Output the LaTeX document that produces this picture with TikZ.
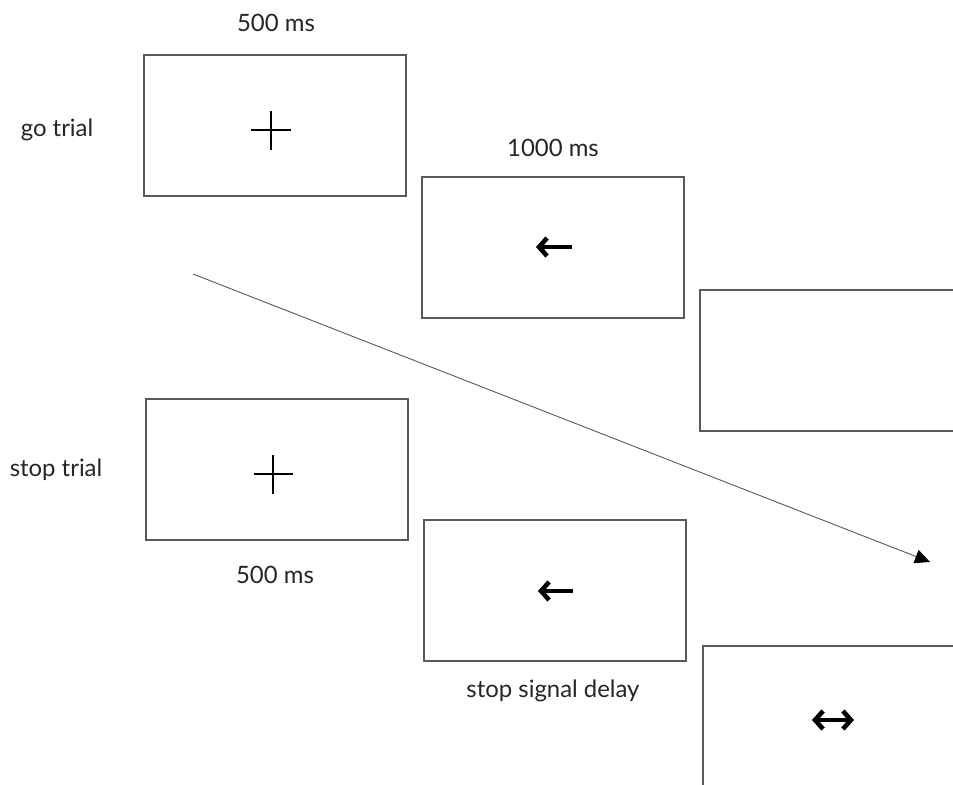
\documentclass[tikz,border=0pt]{standalone}
\usepackage{fontspec}
\setmainfont{Lato}
\usetikzlibrary{arrows.meta}
\definecolor{boxgray}{HTML}{5A5A5A}
\definecolor{txtgray}{HTML}{262626}
\tikzset{
  screen/.style={draw=boxgray, line width=2bp, minimum width=262bp, minimum height=141bp, inner sep=0pt},
  lbl/.style={text=txtgray, font=\fontsize{24}{28}\selectfont, inner sep=0pt},
  fix/.style={line width=2.8bp, black},
  barbtip/.tip={Straight Barb[length=8bp, width=18bp, line width=4.6bp]},
  stim/.style={line width=4.8bp, black},
  flow/.style={draw=boxgray, line width=0.9bp, -{Triangle[length=15bp, width=14bp, fill=black, color=black]}}
}
\begin{document}
\begin{tikzpicture}[x=1bp, y=-1bp]
\clip (0,0) rectangle (953,785);
\fill[white] (0,0) rectangle (953,785);
% screens
\node[screen] (b1) at (275,125.5) {};
\node[screen] (b2) at (553,247.5) {};
\node[screen] (b3) at (831,360.5) {};
\node[screen] (b4) at (277,469.5) {};
\node[screen] (b5) at (555,590.5) {};
\node[screen] (b6) at (834,716.5) {};
% labels
\node[lbl] (t1) at (276,23) {500 ms};
\node[lbl] (t2) at (553,148) {1000 ms};
\node[lbl] (t3) at (275,575) {500 ms};
\node[lbl] (t4) at (553,691) {stop signal delay};
\node[lbl] (go) at (57,130) {go trial};
\node[lbl] (stop) at (56,470) {stop trial};
% fixation crosses
\draw[fix] (251,130) -- (291,130) (271,111) -- (271,150);
\draw[fix] (254,474) -- (293,474) (273,455) -- (273,494);
% arrow stimuli
\draw[stim, barbtip-] (536,247) -- (572,247);
\draw[stim, barbtip-] (538,591) -- (573,591);
\draw[stim, barbtip-barbtip] (812,720) -- (854,720);
% time arrow
\coordinate (s) at (193,274);
\coordinate (e) at (930,562);
\draw[flow] (s) -- (e);
\end{tikzpicture}
\end{document}
